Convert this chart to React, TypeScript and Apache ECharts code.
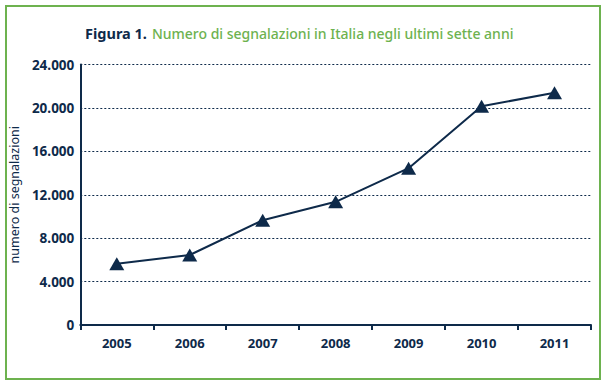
import React, { useEffect, useRef } from "react";
import * as echarts from "echarts";

const years = ["2005", "2006", "2007", "2008", "2009", "2010", "2011"];
const segnalazioni = [5650, 6450, 9650, 11350, 14450, 20150, 21400];
const yTicks = [0, 4000, 8000, 12000, 16000, 20000, 24000];

const NAVY = "#0e2a4a";
const GREEN = "#6db24f";
const FONT = "'Noto Sans', sans-serif";

export default function App() {
  const ref = useRef<HTMLDivElement>(null);
  useEffect(() => {
    if (!ref.current) return;
    const chart = echarts.init(ref.current, undefined, { renderer: "svg" });
    chart.setOption({
      animation: false,
      backgroundColor: "#ffffff",
      graphic: [
        {
          type: "rect",
          shape: { x: 6, y: 6, width: 594, height: 373 },
          style: { fill: "none", stroke: GREEN, lineWidth: 2 },
          silent: true,
        },
      ],
      title: {
        text: "{a|Figura 1.} {b|Numero di segnalazioni in Italia negli ultimi sette anni}",
        left: 80,
        top: 19,
        textStyle: {
          fontWeight: "normal",
          rich: {
            a: { fontFamily: FONT, fontSize: 14.5, fontWeight: "bold", color: NAVY },
            b: { fontFamily: FONT, fontSize: 14, fontWeight: 500, color: GREEN },
          },
        },
      },
      grid: { left: 79.5, right: 16, top: 64.5, bottom: 60, containLabel: false },
      xAxis: {
        type: "category",
        data: years,
        boundaryGap: true,
        axisLine: { show: true, lineStyle: { color: NAVY, width: 2 } },
        axisTick: { show: true, length: 5, alignWithLabel: false, lineStyle: { color: NAVY, width: 2 } },
        axisLabel: { color: NAVY, fontFamily: FONT, fontWeight: "bold", fontSize: 13, margin: 11 },
      },
      yAxis: {
        type: "value",
        min: yTicks[0],
        max: yTicks[yTicks.length - 1],
        interval: 4000,
        name: "numero di segnalazioni",
        nameLocation: "middle",
        nameGap: 52,
        nameTextStyle: { color: NAVY, fontFamily: FONT, fontSize: 12.5 },
        axisLine: { show: true, lineStyle: { color: NAVY, width: 2 } },
        axisTick: { show: false },
        axisLabel: {
          color: NAVY,
          fontFamily: FONT,
          fontWeight: "bold",
          fontSize: 13.5,
          margin: 6,
          formatter: (v: number) => (v === 0 ? "0" : v.toLocaleString("de-DE")),
        },
        splitLine: {
          show: true,
          lineStyle: { color: NAVY, width: 1, type: [2, 2] },
        },
      },
      series: [
        {
          type: "line",
          data: segnalazioni,
          symbol: "triangle",
          symbolSize: [15, 13],
          lineStyle: { color: NAVY, width: 2 },
          itemStyle: { color: NAVY },
        },
      ],
    });
    return () => chart.dispose();
  }, []);
  return <div ref={ref} style={{ width: 607, height: 385, position: "absolute", left: 0, top: 0 }} />;
}
